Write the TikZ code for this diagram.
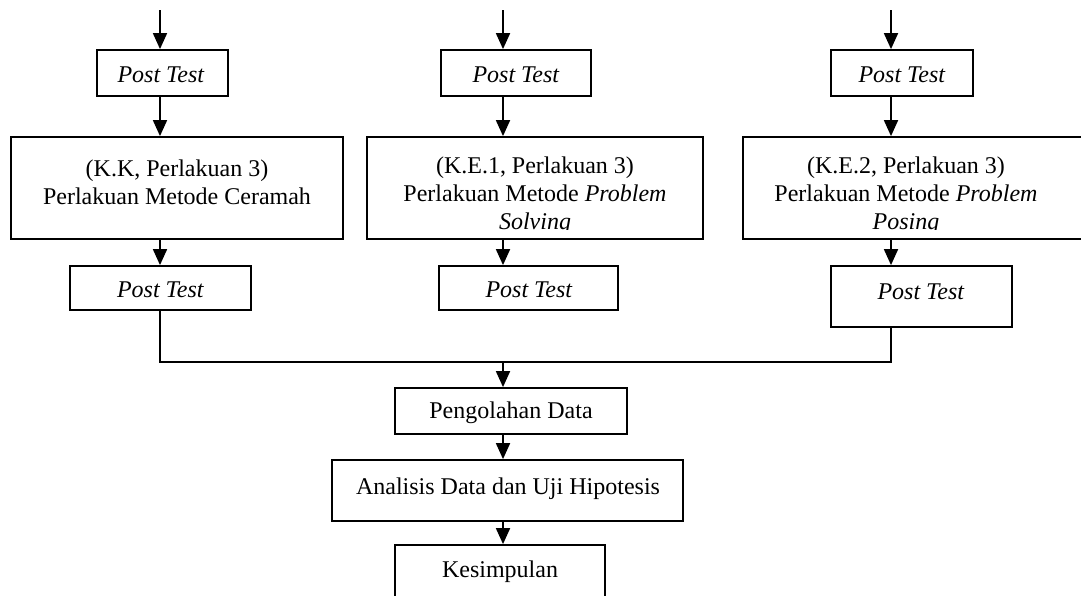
\documentclass[tikz,border=0pt]{standalone}
\usepackage{fontspec}
\setmainfont{Liberation Serif}
\usetikzlibrary{arrows.meta}
\tikzset{
  box/.style={draw, line width=0.9pt, inner sep=0pt, rectangle},
  txt/.style={inner sep=0pt, align=center, font=\fontsize{12}{14}\selectfont},
  arr/.style={line width=0.9pt, -{Triangle[length=8pt,width=7pt]}},
  ln/.style={line width=0.9pt}
}
\begin{document}
\begin{tikzpicture}[x=0.5pt,y=-0.5pt]
\useasboundingbox (0,0) rectangle (1081,595);
\clip (0,0) rectangle (1081,595);
% column anchors
\coordinate (s1) at (160,10);
\coordinate (s2) at (503,10);
\coordinate (s3) at (891,10);
% first Post Test boxes
\node[box, minimum width=65.5pt, minimum height=23pt] (a1) at (162.5,73) {};
\node[box, minimum width=75pt, minimum height=23pt] (a2) at (516,73) {};
\node[box, minimum width=71pt, minimum height=23pt] (a3) at (902,73) {};
\node[txt] (a1t) at (161,75) {\textit{Post Test}};
\node[txt] (a2t) at (516,75) {\textit{Post Test}};
\node[txt] (a3t) at (902,75) {\textit{Post Test}};
% treatment boxes
\node[box, minimum width=166pt, minimum height=51pt] (b1) at (177,188) {};
\node[box, minimum width=168pt, minimum height=51pt] (b2) at (535,188) {};
\node[box, minimum width=173.5pt, minimum height=51pt] (b3) at (916.5,188) {};
\node[txt] (t1) at (177,182) {(K.K, Perlakuan 3)\\Perlakuan Metode Ceramah};
\begin{scope}
\clip (367,137) rectangle (1081,229);
\node[txt] (t2) at (535,196) {(K.E.1, Perlakuan 3)\\Perlakuan Metode \textit{Problem}\\\textit{Solving}};
\node[txt] (t3) at (906,196) {(K.E.2, Perlakuan 3)\\Perlakuan Metode \textit{Problem}\\\textit{Posing}};
\end{scope}
% second Post Test boxes
\node[box, minimum width=90.5pt, minimum height=22pt] (c1) at (160.5,288) {};
\node[box, minimum width=89.5pt, minimum height=22pt] (c2) at (528.5,288) {};
\node[box, minimum width=90.5pt, minimum height=30.5pt] (c3) at (921.5,296.5) {};
\node[txt] (c1t) at (160.5,290) {\textit{Post Test}};
\node[txt] (c2t) at (529,290) {\textit{Post Test}};
\node[txt] (c3t) at (921,292) {\textit{Post Test}};
% lower chain
\node[box, minimum width=116pt, minimum height=23pt] (d) at (511,411) {};
\node[txt] (dt) at (511,413) {Pengolahan Data};
\node[box, minimum width=175.5pt, minimum height=30.5pt] (e) at (507.5,490.5) {};
\node[txt] (et) at (508,489) {Analisis Data dan Uji Hipotesis};
\node[box, minimum width=105pt, minimum height=30pt] (f) at (500,575) {};
\node[txt] (ft) at (500,572) {Kesimpulan};
% arrows column 1
\draw[arr] (s1) -- (s1 |- a1.north);
\draw[arr] (a1.south -| s1) -- (b1.north -| s1);
\draw[arr] (b1.south -| s1) -- (c1.north -| s1);
% arrows column 2
\draw[arr] (s2) -- (s2 |- a2.north);
\draw[arr] (a2.south -| s2) -- (b2.north -| s2);
\draw[arr] (b2.south -| s2) -- (c2.north -| s2);
% arrows column 3
\draw[arr] (s3) -- (s3 |- a3.north);
\draw[arr] (a3.south -| s3) -- (b3.north -| s3);
\draw[arr] (b3.south -| s3) -- (c3.north -| s3);
% collecting line
\coordinate (j) at (503,362);
\draw[ln] (c1.south -| s1) |- (j) -| (c3.south -| s3);
\draw[arr] (j) -- (d.north -| j);
\draw[arr] (d.south -| j) -- (e.north -| j);
\draw[arr] (e.south -| j) -- (f.north -| j);
\end{tikzpicture}
\end{document}
